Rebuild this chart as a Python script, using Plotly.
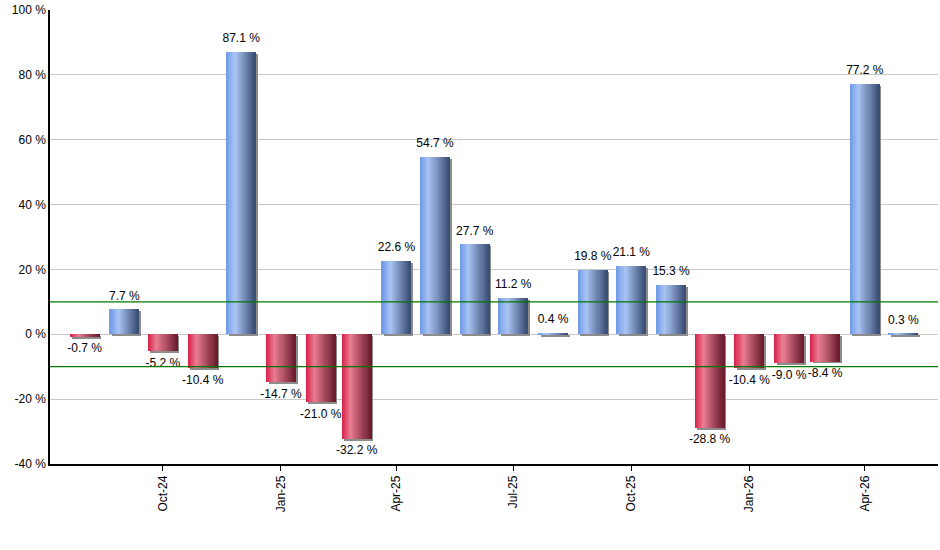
import pandas as pd
import plotly.graph_objects as go

# monthly returns
months = pd.date_range("2024-08-01", "2026-05-01", freq="MS")
returns = [-0.7, 7.7, -5.2, -10.4, 87.1, -14.7, -21.0, -32.2, 22.6, 54.7, 27.7,
           11.2, 0.4, 19.8, 21.1, 15.3, -28.8, -10.4, -9.0, -8.4, 77.2, 0.3]

# the two green reference lines
upper_line = 10
lower_line = -10

y_ticks = [-40, -20, 0, 20, 40, 60, 80, 100]
y_labels = ["%d %%" % v for v in y_ticks]
x_ticks = pd.date_range("2024-10-01", "2026-04-01", freq="3MS")

DAY = 24 * 3600 * 1000
BAR_DAYS = 22.6
N_STRIPS = 28

blue_stops = [(0.0, (108, 152, 230)), (0.3, (170, 196, 243)), (1.0, (56, 75, 114))]
red_stops = [(0.0, (216, 30, 72)), (0.3, (233, 125, 147)), (1.0, (104, 26, 43))]


def mix(stops, t):
    for (t0, c0), (t1, c1) in zip(stops[:-1], stops[1:]):
        if t <= t1:
            f = (t - t0) / (t1 - t0)
            return "rgb(%d,%d,%d)" % tuple(round(a + (b - a) * f) for a, b in zip(c0, c1))
    return "rgb(%d,%d,%d)" % stops[-1][1]


fig = go.Figure()

# drop shadow: grey copy of each bar, nudged right and down
fig.add_trace(go.Bar(
    x=months, y=returns, base=-0.6,
    width=BAR_DAYS * DAY, offset=(-BAR_DAYS / 2 + 1.6) * DAY,
    marker=dict(color="#8c8c8c", line=dict(width=0)),
    hoverinfo="skip", showlegend=False,
))

# gradient bars built from thin vertical strips
strip = BAR_DAYS / N_STRIPS
for i in range(N_STRIPS):
    t = (i + 0.5) / N_STRIPS
    colors = [mix(blue_stops, t) if v >= 0 else mix(red_stops, t) for v in returns]
    fig.add_trace(go.Bar(
        x=months, y=returns,
        width=strip * 1.3 * DAY, offset=(-BAR_DAYS / 2 + i * strip) * DAY,
        marker=dict(color=colors, line=dict(width=0)),
        hoverinfo="skip", showlegend=False,
    ))

fig.add_trace(go.Scatter(
    x=months, y=returns, mode="markers+text",
    marker=dict(size=9, opacity=0),
    text=["%.1f %%" % v for v in returns],
    textposition=["top center" if v >= 0 else "bottom center" for v in returns],
    textfont=dict(family="Liberation Sans, Arial", size=12, color="black"),
    hoverinfo="skip", showlegend=False,
))

for level in (upper_line, lower_line):
    fig.add_hline(y=level, line=dict(color="#007800", width=1.3))

fig.update_layout(
    width=940, height=550,
    margin=dict(l=50, r=2, t=10, b=86),
    paper_bgcolor="white", plot_bgcolor="white",
    barmode="overlay", bargap=0,
    font=dict(family="Liberation Sans, Arial", size=12, color="black"),
    xaxis=dict(
        range=["2024-07-05", "2026-05-28"],
        tickvals=x_ticks, tickformat="%b-%y", tickangle=-90,
        ticks="outside", ticklen=5, tickcolor="black",
        showline=True, linecolor="black", linewidth=1.5,
        showgrid=False, zeroline=False, automargin=False,
    ),
    yaxis=dict(
        range=[-40, 100], tickvals=y_ticks, ticktext=y_labels,
        showline=True, linecolor="black", linewidth=1.5,
        showgrid=True, gridcolor="#c8c8c8", gridwidth=1,
        zeroline=False, ticks="", automargin=False,
    ),
)

# drop the default body margin so the figure sits at the window's corner
fig.write_html("out.html", config={"displayModeBar": False},
               post_script="document.body.style.margin = '0';")
